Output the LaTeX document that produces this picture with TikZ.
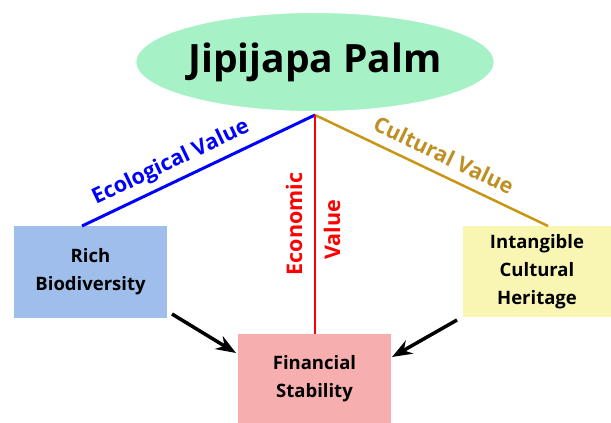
\documentclass[tikz,border=0pt]{standalone}
\usepackage{fontspec}
\setmainfont{Open Sans}
\usetikzlibrary{arrows.meta,shapes.geometric}
\definecolor{palmgreen}{RGB}{166,242,198}
\definecolor{biobox}{RGB}{160,190,236}
\definecolor{herbox}{RGB}{248,246,178}
\definecolor{finbox}{RGB}{246,174,174}
\definecolor{culturegold}{RGB}{200,150,20}
\definecolor{culturetext}{RGB}{190,144,36}
\tikzset{
  valuebox/.style={rectangle, inner sep=0pt, align=center, font=\bfseries\fontsize{18.5}{28}\selectfont},
  link/.style={line width=3pt},
  flow/.style={line width=3.5pt, -{Stealth[length=20pt,width=15pt]}},
  linklabel/.style={font=\bfseries\fontsize{21.5}{24}\selectfont, inner sep=0pt}
}
\begin{document}
\begin{tikzpicture}[x=1pt,y=-1pt]
  \useasboundingbox (0,0) rectangle (611,423);
  % central topic
  \node[ellipse, fill=palmgreen, draw=white, line width=1pt,
        minimum width=304pt, minimum height=99pt, inner sep=0pt,
        font=\bfseries\fontsize{39}{40}\selectfont] (palm) at (315,62) {Jipijapa Palm};
  \coordinate (hub) at (315,115);
  % value boxes
  \node[valuebox, fill=biobox, minimum width=153pt, minimum height=92pt] (bio) at (90.5,272) {Rich\\Biodiversity};
  \node[valuebox, fill=herbox, minimum width=148pt, minimum height=91pt] (her) at (537,271.5) {Intangible\\Cultural\\Heritage};
  \node[valuebox, fill=finbox, minimum width=153pt, minimum height=89pt] (fin) at (314.5,378.5) {Financial\\Stability};
  % attachment points on the box tops
  \coordinate (bioTop) at (82,226);
  \coordinate (herTop) at (548,226);
  % value links
  \draw[link, blue] (hub) -- (bioTop);
  \draw[link, culturegold, line width=2.5pt] (hub) -- (herTop);
  \draw[link, red, line width=2.5pt] (hub) -- (hub |- fin.north);
  % link labels
  \node[linklabel, text=blue, rotate=25.5] (eco) at (171,163) {Ecological Value};
  \node[linklabel, text=culturetext, rotate=-25.5] (cul) at (444,155) {Cultural Value};
  \node[linklabel, text=red, rotate=90, anchor=center] (econ1) at (294,224) {Economic};
  \node[linklabel, text=red, rotate=90, anchor=center] (econ2) at (332,230) {Value};
  % flows into financial stability
  \coordinate (bioOut) at (172,314);
  \coordinate (herOut) at (457,320);
  \draw[flow] (bioOut) -- (236,353);
  \draw[flow] (herOut) -- (392,357);
\end{tikzpicture}
\end{document}
